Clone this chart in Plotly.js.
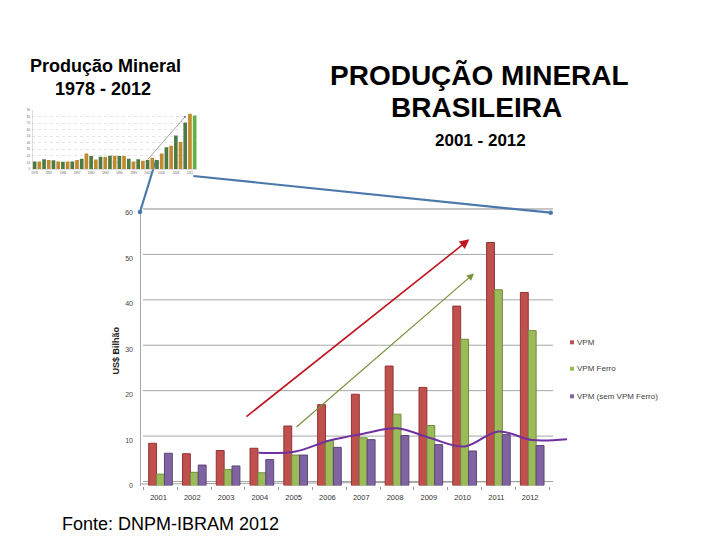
<!DOCTYPE html>
<html>
<head>
<meta charset="utf-8">
<script src="https://cdn.plot.ly/plotly-3.0.1.min.js"></script>
<style>html,body{margin:0;padding:0;background:#fff;}#chart{width:720px;height:540px;}</style>
</head>
<body>
<div id="chart"></div>
<script>
// ---- Main chart data (US$ bilhão) ----
const years = [2001, 2002, 2003, 2004, 2005, 2006, 2007, 2008, 2009, 2010, 2011, 2012];
const seriesNames = ["VPM", "VPM Ferro", "VPM (sem VPM Ferro)"];
const vpm        = [9.3, 7.0, 7.7, 8.2, 13.1, 17.8, 20.1, 26.3, 21.6, 39.5, 53.5, 42.5];
const vpmFerro   = [2.5, 2.9, 3.5, 2.8, 6.7, 9.9, 10.5, 15.7, 13.2, 32.2, 43.1, 34.1];
const vpmSemFerro= [7.1, 4.5, 4.3, 5.7, 6.7, 8.4, 10.1, 11.0, 9.0, 7.6, 11.2, 8.8];
// hand-drawn purple trend curve
const trendYears  = [2003.9, 2005, 2006, 2007, 2008, 2009, 2010, 2011, 2012, 2013.03];
const trendValues = [7.2, 7.5, 9.9, 11.4, 12.6, 10.4, 8.6, 11.9, 10.0, 10.2];
// arrows (tail -> head) in data units
const redArrow   = {fromYear: 2003.5, fromVal: 14.9, toYear: 2010.14, toVal: 54.2};
const greenArrow = {fromYear: 2004.98, fromVal: 12.6, toYear: 2010.28, toVal: 46.7};
const yTicks = [0, 10, 20, 30, 40, 50, 60];

// ---- Inset chart data (1978 - 2012) ----
const insetYears = [1978,1979,1980,1981,1982,1983,1984,1985,1986,1987,1988,1989,1990,1991,1992,1993,1994,
                    1995,1996,1997,1998,1999,2000,2001,2002,2003,2004,2005,2006,2007,2008,2009,2010,2011,2012];
const insetValues = [11.4,11.4,14.9,13.9,13.4,11.4,10.9,11.4,11.4,13.9,15.8,23.8,19.8,14.4,18.8,18.3,20.3,
                     20.3,19.8,19.8,15.8,11.4,14.9,12.4,13.9,17.3,13.9,23.8,33.2,35.6,51.0,41.1,70.8,84.2,81.7];
const insetArrow = {fromYear: 2001.81, fromVal: 12.7, toYear: 2010.16, toVal: 81.3};
const insetTicks = [0,10,20,30,40,50,60,70,80,90];

const W = 720, H = 540;
const px = v => v / W;
const py = v => 1 - v / H;
const FONT = "Liberation Sans, Arial, sans-serif";

const colors = ["#c0504d", "#9bbb59", "#8064a2"];
const edge   = ["#8e3532", "#728a3e", "#5a4577"];
const seriesVals = [vpm, vpmFerro, vpmSemFerro];

const traces = seriesVals.map((vals, k) => ({
  type: "bar", x: years, y: vals, name: seriesNames[k],
  marker: {color: colors[k], line: {color: edge[k], width: 1}},
  xaxis: "x", yaxis: "y", showlegend: false, hoverinfo: "skip"
}));
traces.push({
  type: "scatter", mode: "lines", x: trendYears, y: trendValues,
  line: {color: "#7030a0", width: 2, shape: "spline", smoothing: 1},
  xaxis: "x", yaxis: "y", showlegend: false, hoverinfo: "skip"
});
const insetColors = insetYears.map((y, i) => i === insetYears.length - 1 ? "#63b044" : (i % 2 === 0 ? "#4d7a44" : "#c28a2e"));
traces.push({
  type: "bar", x: insetYears, y: insetValues, width: 0.78,
  marker: {color: insetColors}, xaxis: "x2", yaxis: "y2", showlegend: false, hoverinfo: "skip"
});

// y scale: 0 at 485.5px, 60 at 213px
const pxPerUnit = (485.5 - 213) / 60;
const yTopVal = 62;

const shapes = [];
// main gridlines (drawn on back wall, a few px above the value)
yTicks.forEach(v => {
  shapes.push({type: "line", xref: "paper", yref: "y", ysizemode: "pixel", yanchor: v,
    x0: px(143), x1: px(553), y0: 4, y1: 4,
    line: {color: v === 60 ? "#8c8c8c" : "#a6a6a6", width: 1}, layer: "below"});
});
// floor line
shapes.push({type: "line", xref: "paper", yref: "paper", x0: px(141), y0: py(484), x1: px(553), y1: py(481.5),
  line: {color: "#a0a0a0", width: 1}, layer: "below"});
// y axis line
shapes.push({type: "line", xref: "paper", yref: "paper", x0: px(140.5), y0: py(486), x1: px(140.5), y1: py(207),
  line: {color: "#a6a6a6", width: 1}, layer: "below"});
// blue connector lines
shapes.push({type: "line", xref: "paper", yref: "paper", x0: px(156), y0: py(160), x1: px(140), y1: py(212),
  line: {color: "#4b78ab", width: 2.2}, layer: "below"});
shapes.push({type: "line", xref: "paper", yref: "paper", x0: px(193.3), y0: py(176), x1: px(550.7), y1: py(212.7),
  line: {color: "#4b78ab", width: 2.2}, layer: "below"});
[[140, 212], [550.7, 212.7]].forEach(([cx, cy]) => {
  shapes.push({type: "circle", xref: "paper", yref: "paper", x0: px(cx - 2.3), x1: px(cx + 2.3), y0: py(cy + 2.3), y1: py(cy - 2.3),
    fillcolor: "#4b78ab", line: {width: 0}});
});
// legend squares
const legendY = [342.3, 368.7, 396.3];
legendY.forEach((yy, k) => {
  shapes.push({type: "rect", xref: "paper", yref: "paper", x0: px(570), x1: px(574), y0: py(yy + 2), y1: py(yy - 2),
    fillcolor: colors[k], line: {width: 0}});
});

const annotations = [];
const txt = (text, x, y, size, opts) => Object.assign({
  text, xref: "paper", yref: "paper", x: px(x), y: py(y), showarrow: false,
  xanchor: "center", yanchor: "middle", font: {family: FONT, size, color: "#000"}
}, opts || {});
annotations.push(txt("<b>Produção Mineral</b>", 105.5, 66, 18));
annotations.push(txt("<b>1978 - 2012</b>", 103.5, 89, 18));
annotations.push(txt("<b>PRODUÇÃO MINERAL</b>", 479, 76, 28));
annotations.push(txt("<b>BRASILEIRA</b>", 476, 108, 28));
annotations.push(txt("<b>2001 - 2012</b>", 480, 140, 17));
annotations.push(txt("Fonte: DNPM-IBRAM 2012", 170.5, 524, 18));
annotations.push(txt("<b>US$ Bilhão</b>", 115, 350.5, 9, {textangle: -90, font: {family: FONT, size: 9, color: "#222"}}));
seriesNames.forEach((n, k) => {
  annotations.push(txt(n, 575, legendY[k], 8, {xanchor: "left", font: {family: FONT, size: 8, color: "#404040"}}));
});
[[redArrow, "#c0141e", 1.6], [greenArrow, "#76923c", 1.2]].forEach(([a, c, w]) => {
  annotations.push({text: "", xref: "x", yref: "y", axref: "x", ayref: "y",
    x: a.toYear, y: a.toVal, ax: a.fromYear, ay: a.fromVal,
    showarrow: true, arrowhead: 2, arrowsize: 1.2, arrowwidth: w, arrowcolor: c});
});
annotations.push({text: "", xref: "x2", yref: "y2", axref: "x2", ayref: "y2",
  x: insetArrow.toYear, y: insetArrow.toVal, ax: insetArrow.fromYear, ay: insetArrow.fromVal,
  showarrow: true, arrowhead: 2, arrowsize: 0.8, arrowwidth: 0.6, arrowcolor: "#666"});

const layout = {
  width: W, height: H, margin: {l: 0, r: 0, t: 0, b: 0},
  paper_bgcolor: "#fff", plot_bgcolor: "rgba(0,0,0,0)",
  barmode: "group", bargap: 0.3, bargroupgap: 0,
  font: {family: FONT},
  xaxis: {
    domain: [px(141), px(567)], range: [2000.423, 2013.03],
    tickmode: "array", tickvals: years, ticktext: years.map(String),
    tickfont: {family: FONT, size: 7.5, color: "#333"}, ticks: "", ticklabelshift: -2,
    ticklabelstandoff: 6,
    minor: {ticks: "outside", tickmode: "linear", tick0: 2000.5, dtick: 1, ticklen: 3, tickcolor: "#999", showgrid: false},
    showgrid: false, zeroline: false, showline: false, fixedrange: true
  },
  yaxis: {
    domain: [py(485.5), py(485.5 - yTopVal * pxPerUnit)], range: [0, yTopVal],
    tickmode: "array", tickvals: yTicks, ticks: "",
    tickfont: {family: FONT, size: 7, color: "#444"}, ticklabelstandoff: 7,
    showgrid: false, zeroline: false, showline: false, fixedrange: true
  },
  xaxis2: {
    domain: [px(32.3), px(197)], range: [1977.5, 2012.5], anchor: "y2",
    tickmode: "array", tickvals: insetYears.filter((y, i) => i % 3 === 0), ticks: "",
    tickfont: {family: FONT, size: 3, color: "#666"}, ticklabelstandoff: 1,
    showgrid: false, zeroline: false, showline: true, linecolor: "#bbb", linewidth: 0.5
  },
  yaxis2: {
    domain: [py(169), py(110)], range: [0, 90], anchor: "x2",
    tickmode: "array", tickvals: insetTicks, ticks: "",
    tickfont: {family: FONT, size: 3, color: "#666"}, ticklabelstandoff: 1,
    showgrid: true, gridcolor: "#d4d4d4", griddash: "dot", gridwidth: 0.6,
    zeroline: false, showline: true, linecolor: "#bbb", linewidth: 0.5
  },
  shapes, annotations, showlegend: false
};

Plotly.newPlot("chart", traces, layout, {displayModeBar: false, staticPlot: true});
</script>
</body>
</html>
